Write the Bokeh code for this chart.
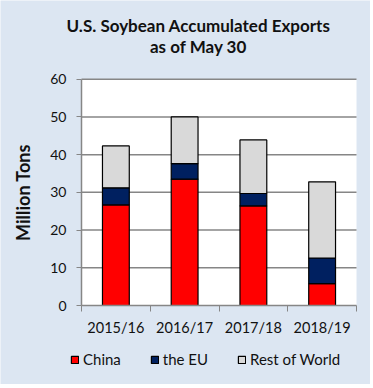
from bokeh.plotting import figure
from bokeh.models import (ColumnDataSource, FixedTicker, Legend, LegendItem, Label, Range1d)
from bokeh.embed import file_html
from bokeh.resources import INLINE

# ---- data ----
seasons = ["2015/16", "2016/17", "2017/18", "2018/19"]
china = [26.7, 33.5, 26.4, 5.8]
the_eu = [4.5, 4.1, 3.3, 6.8]
rest_of_world = [11.1, 12.4, 14.2, 20.2]
series_names = ["China", "the EU", "Rest of World"]
y_ticks = [0, 10, 20, 30, 40, 50, 60]
title_lines = ["U.S. Soybean Accumulated Exports", "as of May 30"]
y_label = "Million Tons"

# ---- style / layout (pixels) ----
BG = "#DCE6F2"
COLORS = ["#FF0000", "#002060", "#D9D9D9"]
GRID = "#868686"
FONT = "Lato"
TXT = "#111111"
W, H = 370, 384
PL, PR, PT, PB = 81, 356, 78.7, 305     # plot area edges
YMAX = y_ticks[-1]
n = len(seasons)

xpu = (PR - PL) / n
ypu = (PB - PT) / YMAX
x_range = Range1d(-PL / xpu, n + (W - PR) / xpu)
y_range = Range1d(-(H - PB) / ypu, YMAX + PT / ypu)

positions = [i + 0.5 for i in range(n)]
source = ColumnDataSource(dict(x=positions, china=china, eu=the_eu, row=rest_of_world))

p = figure(width=W, height=H, min_border=0, x_range=x_range, y_range=y_range,
           output_backend="svg", toolbar_location=None,
           background_fill_color=BG, border_fill_color=BG, outline_line_color=None)
p.title.visible = False
p.title.text_font_size = "0px"
p.title.standoff = 0
p.xgrid.visible = False
p.ygrid.visible = False

# white plot area and horizontal gridlines
p.quad(left=[0], right=[n], bottom=[0], top=[YMAX], fill_color="white", line_color=None)
gl = y_ticks[1:]
p.segment(x0=[0] * len(gl), x1=[n] * len(gl), y0=gl, y1=gl, line_color=GRID, line_width=1.5)

renderers = p.vbar_stack(["china", "eu", "row"], x="x", width=0.39,
                         fill_color=COLORS, line_color="black", line_width=1.2,
                         source=source)

xa = p.xaxis[0]
xa.fixed_location = 0
xa.bounds = (0, n)
xa.ticker = FixedTicker(ticks=positions, minor_ticks=list(range(n + 1)))
xa.major_label_overrides = {pos: s for pos, s in zip(positions, seasons)}
xa.major_tick_out = 0
xa.major_tick_in = 0
xa.minor_tick_out = 6
xa.minor_tick_in = 0
xa.minor_tick_line_color = GRID
xa.axis_line_color = GRID
xa.axis_line_width = 1.5
xa.major_label_text_font = FONT
xa.major_label_text_font_size = "14.5px"
xa.major_label_text_color = TXT
xa.major_label_standoff = 7

ya = p.yaxis[0]
ya.fixed_location = 0
ya.bounds = (0, YMAX)
ya.ticker = FixedTicker(ticks=y_ticks)
ya.minor_tick_line_color = None
ya.major_tick_out = 5
ya.major_tick_in = 0
ya.major_tick_line_color = GRID
ya.axis_line_color = GRID
ya.axis_line_width = 1.5
ya.major_label_text_font = FONT
ya.major_label_text_font_size = "14px"
ya.major_label_text_color = TXT
ya.major_label_standoff = 10
ya.axis_label = y_label
ya.axis_label_text_font = FONT
ya.axis_label_text_font_style = "bold"
ya.axis_label_text_font_size = "18px"
ya.axis_label_text_color = TXT
ya.axis_label_standoff = 13

# title (screen units measured from the bottom-left corner)
title_y = [H - 25, H - 46]
for t, ty in zip(title_lines, title_y):
    p.add_layout(Label(x=198, y=ty, x_units="screen", y_units="screen", text=t,
                       text_align="center", text_baseline="middle",
                       text_font=FONT, text_font_style="bold", text_font_size="17px",
                       text_color=TXT))

legend = Legend(items=[LegendItem(label=s, renderers=[r]) for s, r in zip(series_names, renderers)],
                location=(70, 16), orientation="horizontal",
                glyph_width=9, glyph_height=9, label_standoff=4, spacing=29,
                padding=0, margin=0, border_line_color=None, background_fill_alpha=0,
                label_text_font=FONT, label_text_font_size="15px", label_text_color=TXT,
                label_height=18)
p.add_layout(legend, "center")

open("out.html", "w").write(file_html(p, INLINE))
